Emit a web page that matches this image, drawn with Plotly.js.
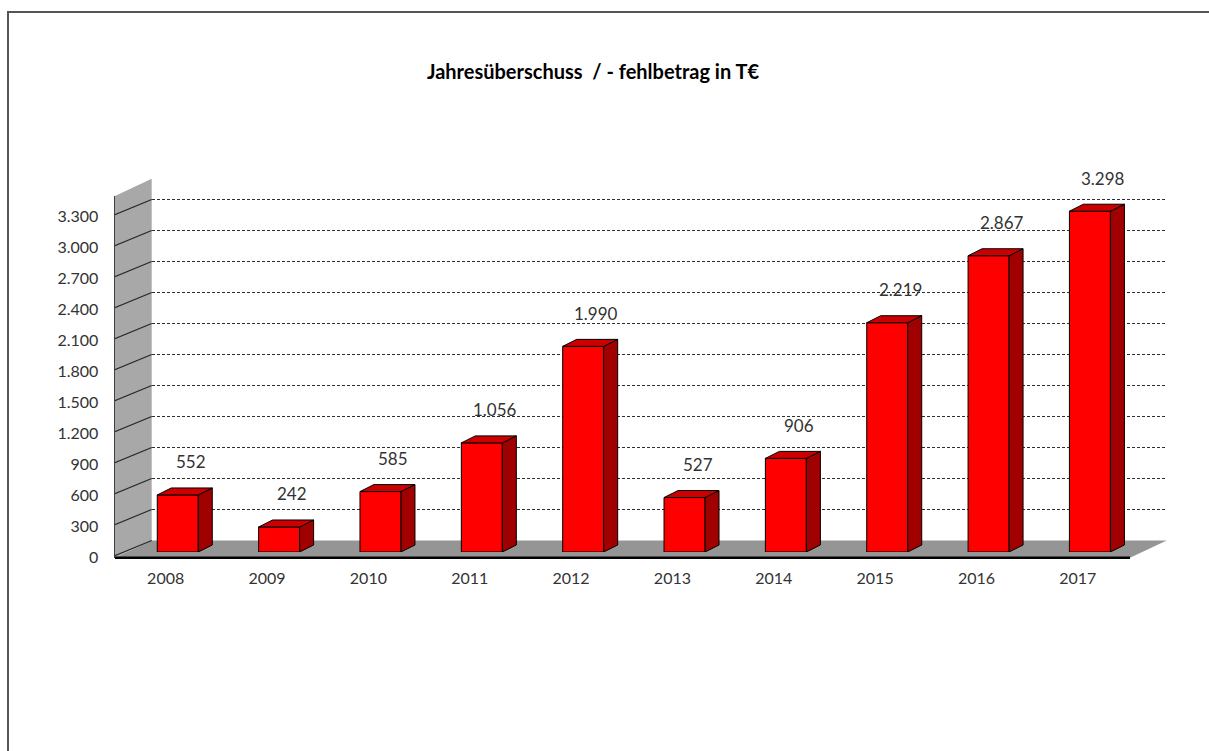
<!DOCTYPE html>
<html>
<head>
<meta charset="utf-8">
<script src="https://cdn.plot.ly/plotly-3.0.1.min.js"></script>
<style>html,body{margin:0;padding:0;background:#fff;}#chart{width:1209px;height:751px;}</style>
</head>
<body>
<div id="chart"></div>
<script>
// ---- data ----
var years = ['2008','2009','2010','2011','2012','2013','2014','2015','2016','2017'];
var values = [552, 242, 585, 1056, 1990, 527, 906, 2219, 2867, 3298];
var tickValues = [0, 300, 600, 900, 1200, 1500, 1800, 2100, 2400, 2700, 3000, 3300];
var titleText = 'Jahresüberschuss\u00A0 / - fehlbetrag in T€';

// ---- geometry (pixels) ----
var W = 1209, H = 751;
var FX_L = 115, FX_R = 1128.5, FY0 = 557.7;   // front plane
var PX_PER_UNIT = 31 / 300, YMAX = 3500;
var BAR_DX = 12.1, BAR_DY = 5.7;              // bar plane offset
var BACK_DX = 36.7, BACK_DY = 17.2;           // back wall offset
var DEPTH_X = 14, DEPTH_Y = 7;                 // bar depth
var BAR_W_PX = 41;
var nCat = years.length;
var pxPerCat = (FX_R - FX_L) / nCat;

function xdom(l, r) { return [l / W, r / W]; }
function ydom(y0) { return [(H - y0) / H, (H - (y0 - YMAX * PX_PER_UNIT)) / H]; }
function px(x) { return x / W; }
function py(y) { return (H - y) / H; }
function fmt(v) { return String(v).replace(/\B(?=(\d{3})+(?!\d))/g, '.'); }

var idx = years.map(function (_, i) { return i; });
var bw = BAR_W_PX / pxPerCat;
var ddx = DEPTH_X / pxPerCat;
var ddy = DEPTH_Y / PX_PER_UNIT;

// top and side faces of the bars
var topX = [], topY = [], sideX = [], sideY = [];
values.forEach(function (v, i) {
  var xl = i - bw / 2, xr = i + bw / 2;
  topX.push(xl, xr, xr + ddx, xl + ddx, xl, null);
  topY.push(v, v, v + ddy, v + ddy, v, null);
  sideX.push(xr, xr + ddx, xr + ddx, xr, xr, null);
  sideY.push(0, ddy, v + ddy, v, 0, null);
});

var font = 'Lato, "Open Sans", sans-serif';

var traces = [
  { x: [], y: [], xaxis: 'x', yaxis: 'y', type: 'scatter', mode: 'lines', hoverinfo: 'skip', showlegend: false },
  { x: [], y: [], xaxis: 'x2', yaxis: 'y2', type: 'scatter', mode: 'lines', hoverinfo: 'skip', showlegend: false },
  { x: idx, y: values, xaxis: 'x3', yaxis: 'y3', type: 'bar', width: bw,
    marker: { color: '#ff0000', line: { color: '#000', width: 1 } }, showlegend: false },
  { x: sideX, y: sideY, xaxis: 'x3', yaxis: 'y3', type: 'scatter', mode: 'lines', fill: 'toself',
    fillcolor: '#a00000', line: { color: '#000', width: 1 }, hoverinfo: 'skip', showlegend: false },
  { x: topX, y: topY, xaxis: 'x3', yaxis: 'y3', type: 'scatter', mode: 'lines', fill: 'toself',
    fillcolor: '#cc0000', line: { color: '#000', width: 1 }, hoverinfo: 'skip', showlegend: false }
];

var xr = [-0.5, nCat - 0.5];
var hidden = { showgrid: false, zeroline: false, showline: false, showticklabels: false, ticks: '' };

var shapes = [];
// outer frame
shapes.push({ type: 'rect', xref: 'paper', yref: 'paper', x0: px(8), x1: 1.05, y0: -0.05, y1: py(12),
  line: { color: '#555', width: 2 }, fillcolor: 'rgba(0,0,0,0)', layer: 'below' });
// side wall
var wallTopF = FY0 - YMAX * PX_PER_UNIT;
shapes.push({ type: 'path', xref: 'paper', yref: 'paper', layer: 'below',
  path: 'M' + px(FX_L) + ',' + py(FY0) + ' L' + px(FX_L) + ',' + py(wallTopF) +
        ' L' + px(FX_L + BACK_DX) + ',' + py(wallTopF - BACK_DY) + ' L' + px(FX_L + BACK_DX) + ',' + py(FY0 - BACK_DY) + ' Z',
  fillcolor: '#a8a8a8', line: { width: 0 } });
// floor
shapes.push({ type: 'path', xref: 'paper', yref: 'paper', layer: 'below',
  path: 'M' + px(FX_L) + ',' + py(FY0) + ' L' + px(FX_R + 1.5) + ',' + py(FY0) +
        ' L' + px(FX_R + 1.5 + BACK_DX) + ',' + py(FY0 - BACK_DY) + ' L' + px(FX_L + BACK_DX) + ',' + py(FY0 - BACK_DY) + ' Z',
  fillcolor: '#959595', line: { width: 0 } });
// front edge of floor
shapes.push({ type: 'line', xref: 'paper', yref: 'paper', x0: px(FX_L), x1: px(FX_R + 1.5), y0: py(FY0), y1: py(FY0),
  line: { color: '#000', width: 2.5 } });
// diagonal tick lines on the wall
tickValues.forEach(function (v) {
  shapes.push({ type: 'line', xref: 'x2', yref: 'y2', xsizemode: 'pixel', ysizemode: 'pixel',
    xanchor: -0.5, yanchor: v, x0: -5, y0: 0, x1: BACK_DX, y1: BACK_DY,
    line: { color: '#262626', width: 1.2 } });
});

var annotations = values.map(function (v, i) {
  return { xref: 'x3', yref: 'y3', x: i, y: v, text: fmt(v), showarrow: false,
    xshift: 13, yshift: 33, font: { family: font, size: 17, color: '#333' } };
});

var layout = {
  width: W, height: H,
  margin: { l: 0, r: 0, t: 0, b: 0 },
  paper_bgcolor: '#fff', plot_bgcolor: 'rgba(0,0,0,0)',
  separators: ',.',
  showlegend: false,
  bargap: 0,
  font: { family: font, size: 16, color: '#333' },
  title: { text: titleText, x: 593 / W, xanchor: 'center', y: py(72), yanchor: 'middle',
    font: { family: font, size: 20, color: '#000', weight: 'bold' } },
  // back plane (gridlines)
  xaxis: Object.assign({ domain: xdom(FX_L + BACK_DX, FX_R + BACK_DX), range: xr, anchor: 'y' }, hidden),
  yaxis: { domain: ydom(FY0 - BACK_DY), range: [0, YMAX], anchor: 'x', tickvals: tickValues.slice(1),
    showgrid: true, gridcolor: '#2e2e2e', gridwidth: 1, griddash: '3px,2px',
    zeroline: false, showline: false, showticklabels: false, ticks: '' },
  // front plane (axes labels)
  xaxis2: { domain: xdom(FX_L, FX_R), range: xr, anchor: 'y2', tickvals: idx, ticktext: years,
    showgrid: false, zeroline: false, showline: false, ticks: '', ticklabelstandoff: 9,
    tickfont: { family: font, size: 16, color: '#333' } },
  yaxis2: { domain: ydom(FY0), range: [0, YMAX], anchor: 'x2', tickvals: tickValues, tickformat: ',d',
    showgrid: false, zeroline: false, showline: true, linecolor: '#404040', linewidth: 1.5,
    ticks: '', ticklabelstandoff: 12, tickfont: { family: font, size: 16, color: '#333' } },
  // bar plane
  xaxis3: Object.assign({ domain: xdom(FX_L + BAR_DX, FX_R + BAR_DX), range: xr, anchor: 'y3' }, hidden),
  yaxis3: Object.assign({ domain: ydom(FY0 - BAR_DY), range: [0, YMAX], anchor: 'x3' }, hidden),
  shapes: shapes,
  annotations: annotations
};

Plotly.newPlot('chart', traces, layout, { displayModeBar: false, staticPlot: true });
</script>
</body>
</html>
